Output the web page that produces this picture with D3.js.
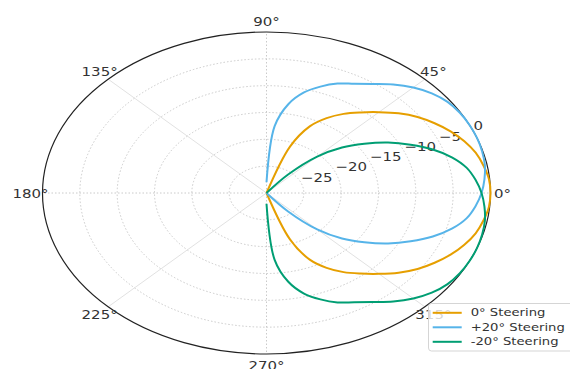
<!DOCTYPE html>
<html>
<head>
<meta charset="utf-8">
<script src="https://cdn.jsdelivr.net/npm/d3@7"></script>
<style>
  body { margin: 0; background: #fff; }
  svg { display: block; }
</style>
</head>
<body>
<svg id="chart" width="570" height="369"></svg>
<script>
// Beam pattern (dB, normalised) sampled over the front half-plane
const angles = [-90,-85,-80,-75,-70,-65,-60,-55,-50,-45,-40,-35,-30,-25,-20,-15,-10,-5,0,
                5,10,15,20,25,30,35,40,45,50,55,60,65,70,75,80,85,90];

const steer0 = [-30,-30,-30,-30,-20.8,-16.3,-13.9,-12.0,-10.4,-8.7,-6.9,-5.3,-4.0,-2.8,-1.8,-1.0,-0.5,-0.1,0,
                -0.1,-0.5,-1.0,-1.8,-2.8,-4.0,-5.3,-6.9,-8.7,-10.4,-12.0,-13.9,-16.3,-20.8,-30,-30,-30,-30];

const steerPlus20 = [-30,-30,-30,-30,-30,-30,-30,-30,-25.5,-20.4,-16.8,-14.0,-11.2,-8.7,-6.3,-4.3,-2.8,-1.9,-1.2,
                     -0.7,-0.3,-0.1,0,0,-0.1,-0.4,-1.1,-2.2,-3.6,-5.2,-6.5,-7.5,-8.9,-10.6,-13.2,-17.5,-28];

const steerMinus20 = [-28,-17.5,-13.2,-10.6,-8.9,-7.5,-6.5,-5.2,-3.6,-2.2,-1.1,-0.4,-0.1,0,0,-0.1,-0.3,-0.7,-1.2,
                      -1.9,-2.8,-4.3,-6.3,-8.7,-11.2,-14.0,-16.8,-20.4,-25.5,-30,-30,-30,-30,-30,-30,-30,-30];

const seriesNames  = ["0° Steering", "+20° Steering", "-20° Steering"];
const seriesValues = [steer0, steerPlus20, steerMinus20];
const seriesColors = ["#E69F00", "#56B4E9", "#009E73"];

const ringTicks  = [-25, -20, -15, -10, -5, 0];
const angleTicks = [0, 45, 90, 135, 180, 225, 270, 315];
const rMin = -30, rMax = 0;

// ---- layout ----
const cx = 266.5, cy = 193, rx = 224, ry = 161;
const font = "DejaVu Sans, Liberation Sans, sans-serif";
const textStretch = 1.2;

const svg = d3.select("#chart");

const r = d3.scaleLinear().domain([rMin, rMax]).range([0, 1]);
const x = d3.scaleLinear().domain([-1, 1]).range([cx - rx, cx + rx]);
const y = d3.scaleLinear().domain([-1, 1]).range([cy + ry, cy - ry]);
const rad = d => d * Math.PI / 180;
const px = (deg, v) => x(r(v) * Math.cos(rad(deg)));
const py = (deg, v) => y(r(v) * Math.sin(rad(deg)));

const grid = svg.append("g");

// concentric rings
grid.selectAll("ellipse.ring")
  .data(ringTicks.filter(t => t < rMax))
  .join("ellipse")
  .attr("class", "ring")
  .attr("cx", cx).attr("cy", cy)
  .attr("rx", t => x(r(t)) - cx)
  .attr("ry", t => cy - y(r(t)))
  .attr("fill", "none")
  .attr("stroke", "#c4c4c4")
  .attr("stroke-width", 0.9)
  .attr("stroke-dasharray", "1.5,2");

// spokes
grid.selectAll("line.spoke")
  .data(angleTicks)
  .join("line")
  .attr("class", "spoke")
  .attr("x1", x(0)).attr("y1", y(0))
  .attr("x2", a => px(a, rMax))
  .attr("y2", a => py(a, rMax))
  .attr("stroke", a => a % 90 === 0 ? "#c4c4c4" : "#dedede")
  .attr("stroke-width", 0.9)
  .attr("stroke-dasharray", a => a % 90 === 0 ? "1.5,2" : null);

// outer boundary
svg.append("ellipse")
  .attr("cx", cx).attr("cy", cy)
  .attr("rx", x(r(rMax)) - cx).attr("ry", cy - y(r(rMax)))
  .attr("fill", "none")
  .attr("stroke", "#222")
  .attr("stroke-width", 1.2);

// radial tick labels along 22.5°
const rLabelAngle = 22.5;
svg.append("g").selectAll("text")
  .data(ringTicks)
  .join("text")
  .attr("transform", t => `translate(${px(rLabelAngle, t)},${py(rLabelAngle, t) - 1}) scale(${textStretch},1)`)
  .attr("font-family", font)
  .attr("font-size", 12.5)
  .attr("fill", "#333")
  .attr("text-anchor", "start")
  .text(t => (t < 0 ? "\u2212" + Math.abs(t) : String(t)));

// angular tick labels
svg.append("g").selectAll("text")
  .data(angleTicks)
  .join("text")
  .attr("transform", a => {
    const c = Math.cos(rad(a)), s = Math.sin(rad(a));
    return `translate(${px(a, rMax) + 12 * c},${py(a, rMax) - 11 * s}) scale(${textStretch},1)`;
  })
  .attr("font-family", font)
  .attr("font-size", 12.5)
  .attr("fill", "#333")
  .attr("text-anchor", "middle")
  .attr("dominant-baseline", "central")
  .text(a => a + "°");

// pattern curves
const line = d3.line()
  .x(d => px(d[0], d[1]))
  .y(d => py(d[0], d[1]))
  .curve(d3.curveCatmullRom.alpha(0.5));

svg.append("g").selectAll("path")
  .data(seriesValues)
  .join("path")
  .attr("d", vals => line(angles.map((a, i) => [a, vals[i]])))
  .attr("fill", "none")
  .attr("stroke", (d, i) => seriesColors[i])
  .attr("stroke-width", 2)
  .attr("stroke-linejoin", "round");

// legend
const legend = svg.append("g").attr("transform", "translate(428.5,303.5)");
legend.append("rect")
  .attr("width", 150).attr("height", 47.5).attr("rx", 3)
  .attr("fill", "#fff").attr("fill-opacity", 0.8)
  .attr("stroke", "#d0d0d0").attr("stroke-width", 0.9);

const items = legend.selectAll("g.item")
  .data(seriesNames)
  .join("g")
  .attr("class", "item")
  .attr("transform", (d, i) => `translate(0,${9.3 + i * 14.5})`);

items.append("line")
  .attr("x1", 4.2).attr("x2", 33.2)
  .attr("stroke", (d, i) => seriesColors[i])
  .attr("stroke-width", 2);

items.append("text")
  .attr("transform", `translate(42.2,0) scale(${textStretch},1)`)
  .attr("font-family", font)
  .attr("font-size", 11)
  .attr("fill", "#333")
  .attr("dominant-baseline", "central")
  .text(d => d);
</script>
</body>
</html>
